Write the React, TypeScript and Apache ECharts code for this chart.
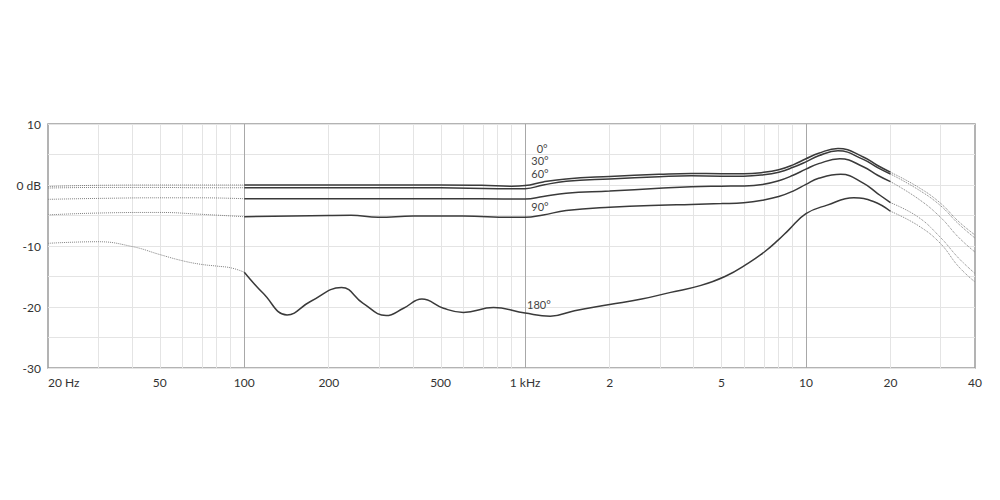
import React, { useEffect, useRef } from "react";
import * as echarts from "echarts";

// x-axis tick frequencies (Hz) and their labels
const xTicks = [20, 50, 100, 200, 500, 1000, 2000, 5000, 10000, 20000, 40000];
const xTickLabels = ["20 Hz", "50", "100", "200", "500", "1 kHz", "2", "5", "10", "20", "40"];
const minorFreqs = [30, 40, 50, 60, 70, 80, 90, 200, 300, 400, 500, 600, 700, 800, 900,
  2000, 3000, 4000, 5000, 6000, 7000, 8000, 9000, 20000, 30000];
const majorFreqs = [100, 1000, 10000];

// y-axis labels
const yLabelMap: Record<string, string> = { "10": "10", "0": "0 dB", "-10": "-10", "-20": "-20", "-30": "-30" };

// curves: [frequency Hz, dB]
const angles = ["0°", "30°", "60°", "90°", "180°"];

const low0 = [[20, -0.25], [30, -0.05], [50, 0], [70, 0], [100, 0]];
const mid0 = [[100, 0], [200, 0], [500, 0], [700, -0.05], [900, -0.2], [1000, -0.1], [1160, 0.5], [1400, 1.0],
  [2000, 1.4], [3000, 1.75], [3900, 1.9], [5000, 1.85], [6000, 1.85], [7000, 2.05], [8000, 2.5], [9000, 3.3],
  [10000, 4.3], [11100, 5.2], [13000, 6.0], [16000, 4.6], [18000, 3.2], [20000, 2.1]];
const high0 = [[20000, 2.1], [25000, -0.3], [30000, -2.9], [35000, -6.0], [40000, -8.2]];

const low30 = [[20, -0.5], [30, -0.4], [50, -0.4], [70, -0.45], [100, -0.45]];
const mid30 = [[100, -0.45], [200, -0.45], [500, -0.45], [800, -0.6], [1000, -0.6], [1160, 0.0], [1400, 0.6],
  [2000, 1.0], [3000, 1.35], [3900, 1.5], [5000, 1.45], [6000, 1.45], [7000, 1.65], [8000, 2.1], [9000, 2.9],
  [10000, 3.8], [11100, 4.8], [13000, 5.6], [16000, 4.2], [18000, 2.85], [20000, 1.8]];
const high30 = [[20000, 1.8], [25000, -0.7], [30000, -3.3], [35000, -6.4], [40000, -8.7]];

const low60 = [[20, -2.35], [30, -2.2], [50, -2.1], [70, -2.1], [100, -2.25]];
const mid60 = [[100, -2.25], [300, -2.25], [700, -2.25], [1000, -2.3], [1160, -1.9], [1400, -1.35],
  [2000, -1.0], [3000, -0.55], [3900, -0.3], [5000, -0.2], [6000, -0.15], [7000, 0.1], [8000, 0.7], [9000, 1.6],
  [10000, 2.6], [11100, 3.5], [13200, 4.3], [16000, 3.0], [18000, 1.6], [20000, 0.55]];
const high60 = [[20000, 0.55], [25000, -2.2], [30000, -5.2], [35000, -8.6], [40000, -11.0]];

const low90 = [[20, -4.9], [30, -4.6], [50, -4.5], [70, -4.8], [100, -5.2]];
const mid90 = [[100, -5.2], [200, -5.0], [240, -4.97], [300, -5.3], [400, -5.1], [600, -5.1], [900, -5.3],
  [1000, -5.3], [1160, -4.9], [1400, -4.2], [2000, -3.65], [3000, -3.3], [3900, -3.2], [5000, -3.05], [6000, -2.9],
  [7000, -2.5], [8000, -1.9], [9000, -1.0], [10000, 0.1], [11100, 1.1], [13300, 1.75], [16000, 0.3],
  [18000, -1.4], [20000, -2.9]];
const high90 = [[20000, -2.9], [25000, -5.2], [30000, -8.5], [35000, -12.0], [40000, -14.5]];

const low180 = [[20, -9.56], [30, -9.3], [40, -10.1], [50, -11.4], [60, -12.4], [70, -13.0], [80, -13.3],
  [90, -13.6], [100, -14.3]];
const mid180 = [[100, -14.3], [117, -17.8], [142, -21.3], [172, -19.1], [222, -16.8], [265, -19.4],
  [320, -21.4], [369, -20.2], [429, -18.7], [512, -20.2], [603, -20.9], [772, -20.1], [1000, -21.0],
  [1229, -21.5], [1500, -20.6], [2000, -19.6], [2600, -18.7], [3300, -17.6], [4200, -16.5], [5148, -15.0],
  [6237, -12.8], [7146, -10.9], [7978, -9.0], [8670, -7.4], [10000, -4.7], [11900, -3.3], [14800, -2.1],
  [17400, -2.7], [20000, -4.3]];
const high180 = [[20000, -4.3], [25000, -6.6], [30000, -9.5], [35000, -13.4], [40000, -15.9]];

// label anchor points [frequency Hz, dB]
const labelAnchors = [[1150, 5.95], [1130, 3.95], [1130, 1.95], [1130, -3.55], [1120, -19.65]];

const lows = [low0, low30, low60, low90, low180];
const mids = [mid0, mid30, mid60, mid90, mid180];
const highs = [high0, high30, high60, high90, high180];

const lg = (f: number) => Math.log10(f);
const toXY = (arr: number[][]) => arr.map(([f, d]) => [lg(f), d]);

export default function App() {
  const ref = useRef<HTMLDivElement>(null);
  useEffect(() => {
    if (!ref.current) return;
    const chart = echarts.init(ref.current, undefined, { renderer: "svg" });
    const font = "Lato, 'Open Sans', sans-serif";
    const solidStyle = { color: "#3a3a3a", width: 1.5 };
    const dottedStyle = { color: "#808080", width: 1, type: "dotted" as const };
    const series: any[] = [];
    series.push({
      type: "line",
      data: [],
      silent: true,
      markLine: {
        silent: true,
        z: 1,
        symbol: ["none", "none"],
        label: { show: false },
        lineStyle: { color: "#e4e4e4", width: 1, type: "solid" },
        data: [
          ...minorFreqs.map((f) => ({ xAxis: lg(f) })),
          ...majorFreqs.map((f) => ({ xAxis: lg(f), lineStyle: { color: "#a8a8a8", width: 1, type: "solid" } })),
        ],
      },
    });
    angles.forEach((a, i) => {
      series.push({
        type: "line", name: a + " low", data: toXY(lows[i]), smooth: 0.45, showSymbol: false, symbol: "none",
        lineStyle: dottedStyle, silent: true, z: 3,
      });
      series.push({
        type: "line", name: a, data: toXY(mids[i]), smooth: 0.45, showSymbol: false, symbol: "none",
        lineStyle: solidStyle, silent: true, z: 4,
        markPoint: {
          symbol: "circle", symbolSize: 0, silent: true,
          label: {
            show: true, position: "inside", formatter: a, color: "#444", fontSize: 11, lineHeight: 11,
            fontFamily: font,
          },
          data: [{ coord: [lg(labelAnchors[i][0]), labelAnchors[i][1]] }],
        },
      });
      series.push({
        type: "line", name: a + " high", data: toXY(highs[i]), smooth: 0.45, showSymbol: false, symbol: "none",
        lineStyle: dottedStyle, silent: true, z: 3,
      });
    });
    chart.setOption({
      animation: false,
      backgroundColor: "#ffffff",
      textStyle: { fontFamily: font },
      grid: { left: 48, right: 25, top: 124, bottom: 132, show: true, borderColor: "#9a9a9a", borderWidth: 1.5, backgroundColor: "transparent" },
      xAxis: {
        type: "value",
        min: lg(20),
        max: lg(40000),
        axisLine: { show: false },
        axisTick: { show: false },
        splitLine: { show: false },
        axisLabel: {
          customValues: xTicks.map(lg),
          color: "#333",
          fontSize: 12,
          fontFamily: font,
          margin: 8,
          alignMinLabel: "left",
          formatter: (v: number) => {
            const i = xTicks.findIndex((f) => Math.abs(lg(f) - v) < 1e-6);
            return i >= 0 ? xTickLabels[i] : "";
          },
        },
      },
      yAxis: {
        type: "value",
        min: -30,
        max: 10,
        interval: 5,
        axisLine: { show: false },
        axisTick: { show: false },
        splitLine: { show: true, lineStyle: { color: "#e4e4e4", width: 1 } },
        axisLabel: {
          color: "#333",
          fontSize: 12,
          fontFamily: font,
          margin: 7,
          formatter: (v: number) => yLabelMap[String(v)] ?? "",
        },
      },
      series,
    });
    return () => chart.dispose();
  }, []);
  return <div ref={ref} style={{ position: "fixed", left: 0, top: 0, width: 1000, height: 500, background: "#fff" }} />;
}
